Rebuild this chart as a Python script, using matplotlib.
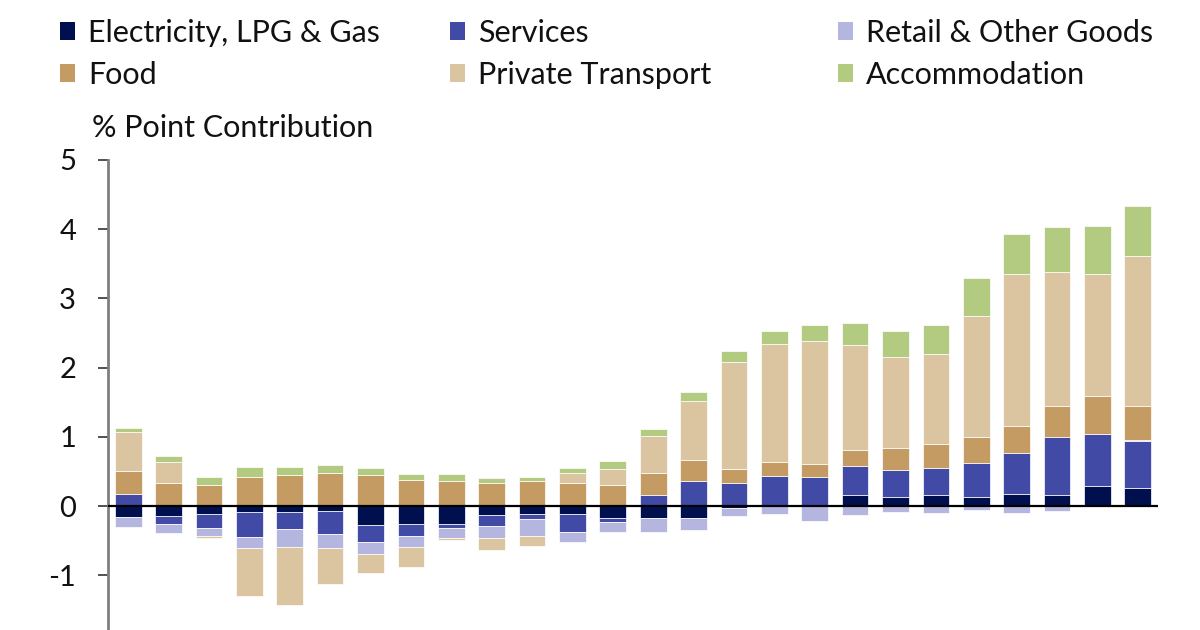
import matplotlib
matplotlib.use("Agg")
import matplotlib.pyplot as plt
import numpy as np
from matplotlib.patches import Patch

plt.rcParams['font.family'] = ['Lato', 'DejaVu Sans']

periods = list(range(26))

series_names = ["Electricity, LPG & Gas", "Services", "Retail & Other Goods",
                "Food", "Private Transport", "Accommodation"]

elec = [-0.16, -0.14, -0.11, -0.08, -0.09, -0.07, -0.28, -0.26, -0.26, -0.135,
        -0.115, -0.11, -0.165, -0.165, -0.165, -0.03, 0.0, 0.0, 0.16, 0.135,
        0.155, 0.13, 0.17, 0.165, 0.29, 0.26]
services = [0.17, -0.12, -0.21, -0.36, -0.24, -0.335, -0.24, -0.17, -0.05, -0.155,
            -0.075, -0.27, -0.065, 0.16, 0.365, 0.34, 0.43, 0.42, 0.415, 0.385,
            0.39, 0.495, 0.595, 0.83, 0.755, 0.675]
retail = [-0.14, -0.125, -0.105, -0.17, -0.255, -0.2, -0.175, -0.16, -0.155, -0.175,
          -0.235, -0.14, -0.15, -0.21, -0.18, -0.11, -0.115, -0.22, -0.125, -0.09,
          -0.10, -0.05, -0.10, -0.07, 0.0, 0.02]
food = [0.34, 0.34, 0.31, 0.42, 0.45, 0.475, 0.45, 0.375, 0.365, 0.335,
        0.365, 0.335, 0.30, 0.32, 0.295, 0.195, 0.205, 0.195, 0.23, 0.315,
        0.345, 0.38, 0.385, 0.455, 0.55, 0.485]
private_transport = [0.56, 0.29, -0.035, -0.69, -0.84, -0.525, -0.265, -0.29, -0.03, -0.165,
                     -0.145, 0.15, 0.24, 0.535, 0.86, 1.545, 1.71, 1.765, 1.52, 1.32,
                     1.31, 1.745, 2.2, 1.925, 1.765, 2.17]
accommodation = [0.06, 0.09, 0.105, 0.14, 0.12, 0.115, 0.095, 0.095, 0.105, 0.07,
                 0.06, 0.06, 0.11, 0.105, 0.13, 0.16, 0.19, 0.235, 0.32, 0.375,
                 0.415, 0.54, 0.585, 0.655, 0.685, 0.73]

colors = ["#00104E", "#414BA5", "#B4B6E0", "#C39B63", "#DBC4A0", "#B3CB80"]

data = [elec, services, retail, food, private_transport, accommodation]

fig = plt.figure(figsize=(12, 6.3), dpi=100)
ax = fig.add_axes([0.09, 0.0, 0.875, 1 - 160 / 630])

x = np.arange(len(periods))
pos_bottom = np.zeros(len(periods))
neg_bottom = np.zeros(len(periods))
for vals, col in zip(data, colors):
    v = np.array(vals, dtype=float)
    bottom = np.where(v >= 0, pos_bottom, neg_bottom)
    ax.bar(x, v, bottom=bottom, width=0.66, color=col, edgecolor='white', linewidth=0.5)
    pos_bottom += np.where(v >= 0, v, 0)
    neg_bottom += np.where(v < 0, v, 0)

ax.axhline(0, color='black', lw=1.6, zorder=5)
ax.set_xlim(-0.5, len(periods) - 0.5)
ax.set_ylim(-1.79, 5)
ax.set_yticks([-1, 0, 1, 2, 3, 4, 5])
ax.set_yticklabels(['-1', '0', '1', '2', '3', '4', '5'])
ax.set_xticks([])
for s in ['top', 'right', 'bottom']:
    ax.spines[s].set_visible(False)
ax.spines['left'].set_color('#7f7f7f')
ax.spines['left'].set_linewidth(2.0)
ax.tick_params(axis='y', direction='out', length=7, width=1.2, color='#333333',
               labelsize=21, pad=16, labelcolor='#111111')

fig.text(92 / 1200, 1 - 128 / 630, "% Point Contribution", fontsize=22,
         va='center', ha='left', color='#111111')

handles = [Patch(facecolor=c, edgecolor='none') for c in colors]
cols_x = [60 / 1200, 450 / 1200, 838 / 1200]
for i in range(3):
    h = [handles[i], handles[i + 3]]
    l = [series_names[i], series_names[i + 3]]
    leg = fig.legend(h, l, loc='upper left', bbox_to_anchor=(cols_x[i], 1 - 19 / 630),
                     frameon=False, fontsize=22, handlelength=0.5, handleheight=0.5,
                     handletextpad=0.42, labelspacing=0.45, borderpad=0, borderaxespad=0)
    for t in leg.get_texts():
        t.set_color('#111111')

fig.savefig("out.png", dpi=100)
